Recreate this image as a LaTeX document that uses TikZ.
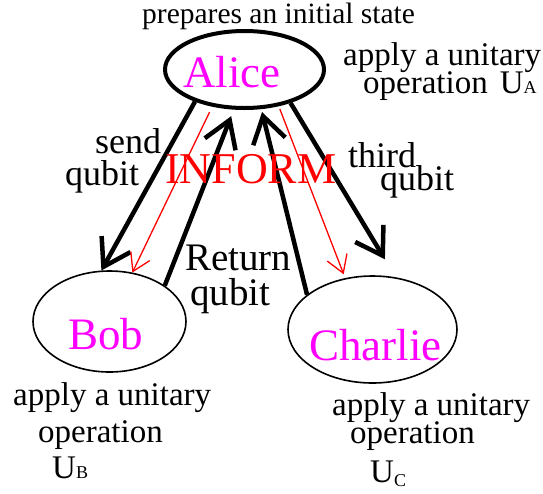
\documentclass[tikz,border=0pt]{standalone}
\usepackage{fontspec}
\setmainfont{Liberation Serif}
\usetikzlibrary{arrows.meta,shapes.geometric}
\definecolor{namepink}{RGB}{255,0,255}
\definecolor{msgred}{RGB}{255,0,0}

\begin{document}
\begin{tikzpicture}
  [x=1pt,y=-1pt,
   party/.style={ellipse,draw,inner sep=0pt},
   who/.style={anchor=base west,inner sep=0pt,text=namepink,font=\fontsize{45}{48}\selectfont},
   note/.style={anchor=base west,inner sep=0pt,font=\fontsize{33}{36}\selectfont},
   tag/.style={anchor=base west,inner sep=0pt,font=\fontsize{36}{40}\selectfont},
   qarrow/.style={line width=4.5pt,-{Straight Barb[length=26pt,width=33pt]}},
   iarrow/.style={msgred,line width=1.3pt,-{Straight Barb[length=17pt,width=21pt]}}]
  \useasboundingbox (0,0) rectangle (543,493);

  % the three parties
  \node[party,line width=4pt,minimum width=159pt,minimum height=77pt] (alice) at (244.5,69.5) {};
  \node[party,line width=1.6pt,minimum width=153pt,minimum height=101pt] (bob) at (109.5,321.5) {};
  \node[party,line width=1.6pt,minimum width=169pt,minimum height=107pt] (charlie) at (372.5,329.5) {};
  \node[who] (alicename) at (183,87) {Alice};
  \node[who] (bobname) at (68,349) {Bob};
  \node[who] (charliename) at (309,360) {Charlie};

  % what each one does
  \node[note,font=\fontsize{29.5}{32}\selectfont] (prep) at (142,23) {prepares an initial state};
  \node[note] (aop1) at (343,65) {apply a unitary};
  \node[note] (aop2) at (363,93) {operation\hspace{12pt}U{\fontsize{18}{20}\selectfont A}};
  \node[note] (bop1) at (13,405) {apply a unitary};
  \node[note] (bop2) at (38,442) {operation};
  \node[note] (bop3) at (52,478) {U{\fontsize{18}{20}\selectfont B}};
  \node[note] (cop1) at (332,415) {apply a unitary};
  \node[note] (cop2) at (350,443) {operation};
  \node[note] (cop3) at (370,482) {U\raisebox{-4pt}{\fontsize{18}{20}\selectfont C}};

  % qubits and messages
  \draw[qarrow] (alice.213) -- (bob.99);
  \draw[iarrow,shorten <=6pt] (alice.229) -- (bob.65);
  \draw[qarrow,shorten >=7pt] (bob.33) -- (alice.255);
  \draw[qarrow,shorten >=3pt] (charlie.152) -- (alice.293);
  \draw[iarrow,shorten <=3pt,shorten >=4pt] (alice.313) -- (charlie.118);
  \draw[qarrow,shorten >=21pt] (alice.324) -- (charlie.66);

  \node[tag] (send) at (95,153) {send};
  \node[tag] (sendq) at (65,185) {qubit};
  \node[tag,text=msgred,font=\fontsize{44}{48}\selectfont] (inform) at (165,183) {INFORM};
  \node[tag] (third) at (348,167) {third};
  \node[tag] (thirdq) at (380,190) {qubit};
  \node[tag,font=\fontsize{39}{42}\selectfont] (ret) at (185,270) {Return};
  \node[tag,font=\fontsize{39}{42}\selectfont] (retq) at (190,305) {qubit};
\end{tikzpicture}
\end{document}
